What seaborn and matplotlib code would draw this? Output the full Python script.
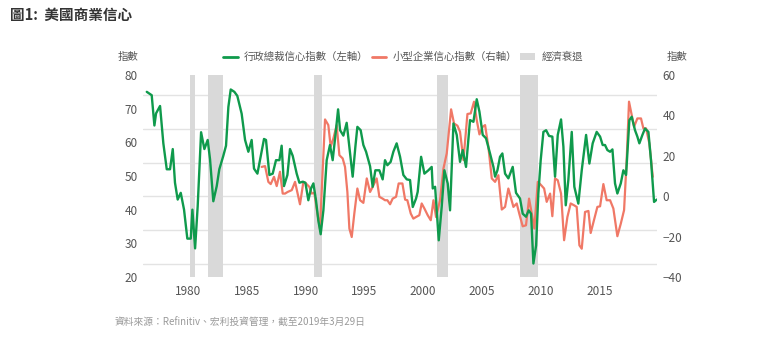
import matplotlib
matplotlib.use("Agg")
import matplotlib.pyplot as plt
import seaborn as sns
import pandas as pd
from matplotlib.lines import Line2D
from matplotlib.patches import Patch

# ---- data ----
ceo_year = [1976.49, 1976.91, 1977.14, 1977.28, 1977.62, 1977.90, 1978.19, 1978.47, 1978.70, 1978.89,
            1979.12, 1979.38, 1979.66, 1979.94, 1980.23, 1980.37, 1980.60, 1980.82, 1981.11, 1981.39,
            1981.67, 1981.87, 1982.15, 1982.44, 1982.66, 1983.00, 1983.23, 1983.43, 1983.63, 1983.94,
            1984.19, 1984.56, 1984.85, 1985.13, 1985.41, 1985.61, 1985.90, 1986.12, 1986.46, 1986.63,
            1986.92, 1987.20, 1987.48, 1987.77, 1987.96, 1988.16, 1988.45, 1988.67, 1988.90, 1989.24,
            1989.47, 1989.75, 1989.98, 1990.23, 1990.46, 1990.66, 1990.88, 1991.08, 1991.28, 1991.51,
            1991.79, 1992.07, 1992.30, 1992.53, 1992.76, 1992.93, 1993.21, 1993.49, 1993.72, 1994.00,
            1994.23, 1994.40, 1994.68, 1994.91, 1995.14, 1995.48, 1995.70, 1995.93, 1996.27, 1996.55,
            1996.75, 1996.95, 1997.23, 1997.46, 1997.74, 1998.03, 1998.31, 1998.60, 1998.88, 1999.11,
            1999.39, 1999.53, 1999.82, 2000.10, 2000.44, 2000.72, 2000.81, 2001.01, 2001.32, 2001.57,
            2001.80, 2002.08, 2002.28, 2002.57, 2002.85, 2003.13, 2003.36, 2003.64, 2003.98, 2004.27,
            2004.55, 2004.78, 2005.06, 2005.34, 2005.68, 2005.97, 2006.11, 2006.31, 2006.53, 2006.73,
            2006.96, 2007.24, 2007.61, 2007.89, 2008.23, 2008.46, 2008.74, 2008.97, 2009.17, 2009.37,
            2009.60, 2009.79, 2009.99, 2010.22, 2010.45, 2010.70, 2010.98, 2011.21, 2011.44, 2011.72,
            2011.92, 2012.12, 2012.34, 2012.63, 2012.85, 2013.19, 2013.48, 2013.85, 2014.13, 2014.41,
            2014.75, 2015.04, 2015.26, 2015.46, 2015.66, 2015.89, 2016.09, 2016.31, 2016.51, 2016.80,
            2017.02, 2017.25, 2017.53, 2017.73, 2018.01, 2018.21, 2018.38, 2018.64, 2018.86, 2019.15,
            2019.37, 2019.63, 2019.86]
ceo_value = [75.0, 74.0, 65.0, 68.6, 70.8, 59.7, 52.0, 52.0, 58.0, 48.0,
             43.0, 45.0, 40.0, 31.4, 31.4, 40.0, 28.5, 41.0, 63.0, 58.0,
             60.7, 55.0, 42.5, 47.0, 52.0, 56.0, 59.0, 70.5, 75.7, 75.0,
             73.8, 68.5, 60.7, 57.2, 60.7, 52.2, 50.7, 54.7, 61.0, 60.7,
             50.3, 50.7, 54.7, 54.7, 59.0, 47.0, 50.3, 58.0, 56.0, 50.7,
             48.0, 48.3, 48.0, 42.8, 46.3, 47.8, 42.8, 36.8, 32.7, 39.8,
             54.7, 59.2, 54.7, 62.0, 69.8, 63.6, 62.0, 65.8, 58.7, 49.8,
             58.7, 64.6, 63.6, 59.2, 57.2, 52.9, 46.8, 51.7, 51.7, 49.0,
             54.7, 53.2, 54.2, 57.2, 59.7, 55.7, 50.3, 49.0, 48.8, 40.8,
             43.3, 45.3, 55.7, 50.7, 51.7, 52.7, 46.3, 46.8, 30.9, 40.8,
             51.7, 47.8, 39.8, 65.6, 62.2, 54.2, 57.7, 52.7, 66.6, 66.1,
             72.8, 69.1, 62.2, 61.2, 56.7, 52.7, 49.8, 51.7, 55.7, 56.7,
             50.7, 49.3, 52.7, 45.0, 43.3, 38.8, 37.9, 39.8, 38.8, 24.0,
             29.4, 44.8, 54.7, 63.1, 63.6, 61.9, 61.7, 49.8, 62.2, 66.8,
             58.7, 41.3, 48.8, 63.1, 46.8, 41.8, 51.7, 62.2, 53.7, 59.7,
             63.1, 61.7, 59.2, 59.2, 57.7, 57.2, 57.9, 47.8, 44.8, 47.8,
             51.7, 50.3, 66.6, 67.6, 63.6, 61.7, 59.7, 62.2, 64.1, 63.1,
             54.7, 42.3, 43.0]

sb_year = [1986.26, 1986.55, 1986.83, 1987.03, 1987.31, 1987.54, 1987.82, 1988.05, 1988.25, 1988.47,
           1988.82, 1989.10, 1989.52, 1989.81, 1990.03, 1990.32, 1990.52, 1990.74, 1991.00, 1991.22,
           1991.65, 1991.93, 1992.13, 1992.36, 1992.64, 1992.87, 1993.15, 1993.35, 1993.55, 1993.72,
           1993.92, 1994.14, 1994.40, 1994.63, 1994.91, 1995.20, 1995.48, 1995.70, 1996.04, 1996.27,
           1996.55, 1996.75, 1996.95, 1997.18, 1997.40, 1997.69, 1997.91, 1998.23, 1998.46, 1998.65,
           1998.94, 1999.16, 1999.39, 1999.67, 1999.87, 2000.10, 2000.38, 2000.64, 2000.87, 2001.09,
           2001.43, 2001.72, 2002.00, 2002.37, 2002.62, 2002.91, 2003.13, 2003.42, 2003.76, 2004.04,
           2004.32, 2004.55, 2004.78, 2005.06, 2005.26, 2005.54, 2005.83, 2006.11, 2006.39, 2006.68,
           2006.96, 2007.24, 2007.67, 2007.95, 2008.18, 2008.46, 2008.74, 2009.00, 2009.23, 2009.45,
           2009.74, 2010.02, 2010.28, 2010.50, 2010.79, 2010.98, 2011.21, 2011.44, 2011.72, 2011.98,
           2012.26, 2012.54, 2012.83, 2013.05, 2013.28, 2013.48, 2013.76, 2014.05, 2014.24, 2014.53,
           2014.81, 2015.04, 2015.32, 2015.60, 2015.89, 2016.17, 2016.51, 2016.80, 2017.08, 2017.30,
           2017.50, 2017.73, 2017.93, 2018.21, 2018.52, 2018.72, 2018.95, 2019.23, 2019.52]
sb_value = [14.5, 14.9, 7.1, 6.0, 9.6, 5.0, 12.1, 1.3, 1.3, 2.1,
            3.0, 7.1, -4.0, 7.1, 6.3, 4.6, 1.3, 1.7, -8.6, -16.0,
            38.0, 35.2, 24.5, 28.6, 35.2, 20.3, 18.7, 14.5, 2.1, -16.0,
            -20.2, -8.6, 3.8, -2.0, -3.3, 8.8, 2.1, 4.6, 8.8, -0.3,
            -1.2, -2.0, -2.0, -4.0, -1.2, -0.3, 6.3, 6.3, -1.7, -2.0,
            -8.6, -11.1, -10.3, -9.4, -3.6, -6.1, -9.4, -11.9, -2.0, -10.3,
            -2.0, 13.7, 21.2, 43.0, 36.0, 34.9, 31.9, 17.9, 40.7, 41.0,
            46.8, 37.7, 30.6, 34.4, 35.2, 24.5, 8.8, 7.1, 10.4, -6.6,
            -5.3, 3.8, -5.3, -3.6, -8.9, -14.9, -14.4, -1.2, -8.6, -16.0,
            7.1, 5.5, 3.8, -2.8, 1.3, -9.9, 8.8, 7.9, 1.3, -21.8,
            -10.3, -3.6, -4.5, -5.3, -24.3, -26.0, -7.8, -7.3, -18.2, -11.6,
            -5.3, -5.0, 6.0, -2.0, -2.0, -6.1, -19.8, -13.6, -6.9, 17.9,
            46.8, 40.2, 34.4, 38.5, 38.5, 33.6, 33.6, 26.1, 9.6]

recession_start = [1980.17, 1981.73, 1990.71, 2001.15, 2008.23]
recession_end = [1980.60, 1982.95, 1991.37, 2002.08, 2009.74]

x_ticks = [1980, 1985, 1990, 1995, 2000, 2005, 2010, 2015]
left_ticks = [20, 30, 40, 50, 60, 70, 80]
right_ticks = [-40, -20, 0, 20, 40, 60]

label_ceo = "行政總裁信心指數（左軸）"
label_sb = "小型企業信心指數（右軸）"
label_rec = "經濟衰退"
title = "圖1:  美國商業信心"
source = "資料來源：Refinitiv、宏利投資管理，截至2019年3月29日"

# ---- style ----
sns.set_theme(style="white")
plt.rcParams["font.family"] = ["Noto Sans CJK TC", "DejaVu Sans"]

GREEN = "#0f9a4c"
RED = "#f07866"
GREY = "#d9d9d9"
TXT = "#555555"

fig = plt.figure(figsize=(7.69, 3.37), dpi=100)
ax = fig.add_axes([143 / 769, 1 - 277 / 337, (657 - 143) / 769, (277 - 75) / 337])
ax2 = ax.twinx()

df_ceo = pd.DataFrame({"year": ceo_year, "value": ceo_value})
df_sb = pd.DataFrame({"year": sb_year, "value": sb_value})

# recession shading (drawn on the back axis, under both lines)
for s, e in zip(recession_start, recession_end):
    ax2.axvspan(s, e, color=GREY, lw=0, zorder=0)

sns.lineplot(data=df_sb, x="year", y="value", ax=ax2, color=RED, lw=1.6, zorder=2)
sns.lineplot(data=df_ceo, x="year", y="value", ax=ax, color=GREEN, lw=1.7, zorder=3)

# green axis on top of red axis; gridlines go on back axis
ax.set_zorder(ax2.get_zorder() + 1)
ax.patch.set_visible(False)

ax.set_xlim(1976.17, 2019.88)
ax.set_ylim(20, 80)
ax2.set_ylim(-40, 60)
ax.set_yticks(left_ticks)
ax2.set_yticks(right_ticks)
ax.set_xticks(x_ticks)
ax.set_xticklabels([str(t) for t in x_ticks])

# gridlines for the left scale drawn behind everything
for v in left_ticks:
    ax2.axhline((v - 50) * 100 / 60, color="#e3e3e3", lw=1, zorder=-1)

ax.grid(False)
ax2.grid(False)
for a in (ax, ax2):
    for sp in a.spines.values():
        sp.set_visible(False)
    a.set_xlabel("")
    a.set_ylabel("")
    a.tick_params(axis="both", length=0, labelsize=8.5, colors=TXT, pad=4)
ax.tick_params(axis="x", pad=6)

# texts
fig.text(10 / 769, 1 - 15 / 337, title, fontsize=10.5, fontweight="bold", color="#333333", va="center", ha="left")
fig.text(138 / 769, 1 - 57 / 337, "指數", fontsize=7.5, color=TXT, va="center", ha="right")
fig.text(667 / 769, 1 - 57 / 337, "指數", fontsize=7.5, color=TXT, va="center", ha="left")
fig.text(115 / 769, 1 - 323 / 337, source, fontsize=7, color="#9a9a9a", va="center", ha="left")

handles = [Line2D([0], [0], color=GREEN, lw=2),
           Line2D([0], [0], color=RED, lw=2),
           Patch(facecolor=GREY, edgecolor="none")]
fig.legend(handles, [label_ceo, label_sb, label_rec], loc="center", ncol=3,
           bbox_to_anchor=(403 / 769, 1 - 57 / 337), frameon=False, fontsize=7.5,
           handlelength=1.4, handleheight=0.7, handletextpad=0.6, columnspacing=0.3,
           labelcolor=TXT)

fig.savefig("out.png", dpi=100)
